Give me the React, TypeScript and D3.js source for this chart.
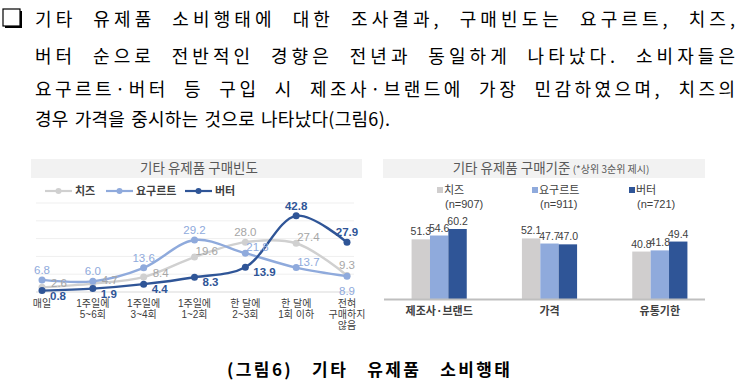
import React, { useRef, useEffect } from "react";
import * as d3 from "d3";

// paragraph text (one entry per printed line)
const paragraphLines = [
  "기타 유제품 소비행태에 대한 조사결과, 구매빈도는 요구르트, 치즈,",
  "버터 순으로 전반적인 경향은 전년과 동일하게 나타났다. 소비자들은",
  "요구르트·버터 등 구입 시 제조사·브랜드에 가장 민감하였으며, 치즈의",
  "경우 가격을 중시하는 것으로 나타났다(그림6).",
];
const caption = "(그림6) 기타 유제품 소비행태";

// left chart: purchase frequency
const freqTitle = "기타 유제품 구매빈도";
const freqCategories = [
  ["매일"],
  ["1주일에", "5~6회"],
  ["1주일에", "3~4회"],
  ["1주일에", "1~2회"],
  ["한 달에", "2~3회"],
  ["한 달에", "1회 이하"],
  ["전혀", "구매하지", "않음"],
];
const seriesNames = ["치즈", "요구르트", "버터"];
const cheeseFreq = [2.6, 4.7, 8.4, 19.6, 28.0, 27.4, 9.3];
const yogurtFreq = [6.8, 6.0, 13.6, 29.2, 21.8, 13.7, 8.9];
const butterFreq = [0.8, 1.9, 4.4, 8.3, 13.9, 42.8, 27.9];
const freqTicks = [0, 10, 20, 30, 40, 50];
// where each value label sits relative to its point
const cheeseLabelPos = ["rh", "rh", "rh", "ar", "a", "ar", "a"];
const yogurtLabelPos = ["a", "a", "a", "a", "ar", "ar", "b"];
const butterLabelPos = ["br", "br", "br", "br", "br", "a", "a"];

// right chart: purchase criteria
const critTitle = "기타 유제품 구매기준";
const critSubTitle = " (*상위 3순위 제시)";
const critCategories = ["제조사·브랜드", "가격", "유통기한"];
const sampleSizes = ["(n=907)", "(n=911)", "(n=721)"];
const cheeseCrit = [51.3, 52.1, 40.8];
const yogurtCrit = [54.6, 47.7, 41.8];
const butterCrit = [60.2, 47.0, 49.4];

const lineColors = ["#d0d0d0", "#8faadc", "#2f5597"];
const labelColors = ["#a6a6a6", "#8faadc", "#2f5597"];
const barColors = ["#d0cece", "#8faadc", "#2f5597"];
const FONT = "'Noto Sans CJK KR', 'Noto Sans', sans-serif";
const NUM_FONT = "'Liberation Sans', 'Noto Sans CJK KR', sans-serif";

// spread a line of text to a target width, partly at the spaces
function justify(sel: d3.Selection<SVGTextElement, unknown, null, undefined>, target: number, wordShare: number) {
  const node = sel.node();
  if (!node) return;
  const str = node.textContent || "";
  const natural = node.getComputedTextLength();
  const extra = target - natural;
  if (extra <= 0) return;
  const spaces = (str.match(/ /g) || []).length;
  const gaps = str.length - 1;
  const ws = spaces ? (extra * wordShare) / spaces : 0;
  const ls = (extra - ws * spaces) / gaps;
  sel.attr("word-spacing", ws).attr("letter-spacing", ls);
}

const App = () => {
  const ref = useRef<SVGSVGElement>(null);

  useEffect(() => {
    const svg = d3.select(ref.current);
    svg.selectAll("*").remove();
    svg.style("font-family", FONT);

    // ---------- paragraph ----------
    svg.append("rect").attr("x", 5).attr("y", 11).attr("width", 17).attr("height", 17).attr("fill", "#000");
    svg.append("rect").attr("x", 3).attr("y", 9).attr("width", 17).attr("height", 17)
      .attr("fill", "#fff").attr("stroke", "#000").attr("stroke-width", 1.2);

    const lineY = [26, 63, 96, 126];
    paragraphLines.forEach((t, i) => {
      const txt = svg.append("text")
        .attr("x", 35).attr("y", lineY[i])
        .attr("font-size", 18).attr("fill", "#000")
        .text(t);
      if (i < 3) justify(txt as any, 700, 0.3);
      else justify(txt as any, 355, 0.5);
    });

    const cap = svg.append("text")
      .attr("x", 227).attr("y", 376)
      .attr("font-size", 17).attr("font-weight", "bold").attr("fill", "#000")
      .text(caption);
    justify(cap as any, 283, 0.5);

    // ---------- left: line chart ----------
    const left = svg.append("g");
    left.append("rect").attr("x", 31).attr("y", 159).attr("width", 331).attr("height", 19).attr("fill", "#f2f2f2");
    left.append("text").attr("x", 199).attr("y", 173).attr("text-anchor", "middle")
      .attr("font-size", 13.5).attr("fill", "#595959").text(freqTitle);

    const legendX = [45, 106, 185];
    seriesNames.forEach((n, i) => {
      const g = left.append("g").attr("transform", `translate(${legendX[i]},191)`);
      g.append("line").attr("x1", 0).attr("x2", 27).attr("stroke", lineColors[i]).attr("stroke-width", 2.2);
      g.append("circle").attr("cx", 13.5).attr("r", 3).attr("fill", lineColors[i]);
      g.append("text").attr("x", 30).attr("y", 4).attr("font-size", 11).attr("font-weight", "bold")
        .attr("fill", "#404040").text(n);
    });

    const x = d3.scalePoint<number>().domain(d3.range(freqCategories.length)).range([42, 347]);
    const y = d3.scaleLinear().domain([0, 50]).range([292, 203]);

    left.append("g").selectAll("line").data(freqTicks).join("line")
      .attr("x1", 36).attr("x2", 354)
      .attr("y1", d => y(d)).attr("y2", d => y(d))
      .attr("stroke", d => (d === 0 ? "#d9d9d9" : "#efefef")).attr("stroke-width", 1);

    freqCategories.forEach((lines, i) => {
      const t = left.append("text").attr("x", x(i)!).attr("y", 307).attr("text-anchor", "middle")
        .attr("font-size", 10).attr("fill", "#404040").style("font-family", NUM_FONT);
      lines.forEach((l, j) => {
        t.append("tspan").attr("x", x(i)!).attr("dy", j === 0 ? 0 : 11).text(l);
      });
    });

    const line = d3.line<number>()
      .x((_, i) => x(i)!)
      .y(d => y(d))
      .curve(d3.curveCatmullRom.alpha(0.5));

    const series = [cheeseFreq, yogurtFreq, butterFreq];
    const labelPos = [cheeseLabelPos, yogurtLabelPos, butterLabelPos];

    series.forEach((vals, s) => {
      left.append("path").datum(vals).attr("d", line)
        .attr("fill", "none").attr("stroke", lineColors[s]).attr("stroke-width", 2.4);
      left.append("g").selectAll("circle").data(vals).join("circle")
        .attr("cx", (_, i) => x(i)!).attr("cy", d => y(d)).attr("r", 3.5)
        .attr("fill", lineColors[s]);
    });

    series.forEach((vals, s) => {
      vals.forEach((v, i) => {
        const px = x(i)!;
        const py = y(v);
        const p = labelPos[s][i];
        let tx = px, ty = py, anchor = "middle";
        if (p === "a") { ty = py - 6; }
        else if (p === "b") { ty = py + 19; }
        else if (p === "rh") { tx = px + 9; ty = py; anchor = "start"; }
        else if (p === "ar") { tx = px + 1; ty = py - 2; anchor = "start"; }
        else if (p === "br") { tx = px + 8; ty = py + 9; anchor = "start"; }
        left.append("text").attr("x", tx).attr("y", ty).attr("text-anchor", anchor)
          .attr("font-size", 11.5).attr("font-weight", s === 2 ? "bold" : "normal")
          .style("font-family", NUM_FONT)
          .attr("fill", labelColors[s]).text(v.toFixed(1));
      });
    });

    // ---------- right: bar chart ----------
    const right = svg.append("g");
    right.append("rect").attr("x", 383).attr("y", 159).attr("width", 322).attr("height", 19).attr("fill", "#f2f2f2");
    const tt = right.append("text").attr("x", 551).attr("y", 173).attr("text-anchor", "middle")
      .attr("fill", "#595959");
    tt.append("tspan").attr("font-size", 13.5).text(critTitle);
    tt.append("tspan").attr("font-size", 10).text(critSubTitle);

    const legX = [437, 532, 629];
    seriesNames.forEach((n, i) => {
      const g = right.append("g").attr("transform", `translate(${legX[i]},0)`);
      g.append("rect").attr("x", 0).attr("y", 187).attr("width", 6).attr("height", 6).attr("fill", barColors[i]);
      g.append("text").attr("x", 7).attr("y", 194).attr("font-size", 11).attr("fill", "#404040").text(n);
      g.append("text").attr("x", 8).attr("y", 208).attr("font-size", 11).attr("fill", "#404040")
        .style("font-family", NUM_FONT).text(sampleSizes[i]);
    });

    const x0 = d3.scaleBand<string>().domain(critCategories).range([384, 715])
      .paddingInner(0.5).paddingOuter(0.25);
    const x1 = d3.scaleBand<number>().domain([0, 1, 2]).range([0, x0.bandwidth()]);
    const yb = d3.scaleLinear().domain([0, 70]).range([299, 299 - 81.4]);

    const critSeries = [cheeseCrit, yogurtCrit, butterCrit];
    critCategories.forEach((c, ci) => {
      const g = right.append("g").attr("transform", `translate(${x0(c)},0)`);
      critSeries.forEach((vals, s) => {
        g.append("rect").attr("x", x1(s)!).attr("y", yb(vals[ci]))
          .attr("width", x1.bandwidth()).attr("height", yb(0) - yb(vals[ci]))
          .attr("fill", barColors[s]);
      });
      critSeries.forEach((vals, s) => {
        g.append("text").attr("x", x1(s)! + x1.bandwidth() / 2).attr("y", yb(vals[ci]) - 4)
          .attr("text-anchor", "middle").attr("font-size", 10.5).attr("fill", "#404040")
          .style("font-family", NUM_FONT)
          .text(vals[ci].toFixed(1));
      });
      right.append("text").attr("x", x0(c)! + x0.bandwidth() / 2).attr("y", 315)
        .attr("text-anchor", "middle").attr("font-size", 11).attr("font-weight", "bold")
        .attr("fill", "#404040").text(c);
    });

    right.append("line").attr("x1", 384).attr("x2", 705).attr("y1", 299.5).attr("y2", 299.5)
      .attr("stroke", "#bfbfbf").attr("stroke-width", 2);
  }, []);

  return (
    <svg
      ref={ref}
      width={739}
      height={389}
      style={{ position: "absolute", left: 0, top: 0, background: "#fff" }}
    />
  );
};

export default App;
